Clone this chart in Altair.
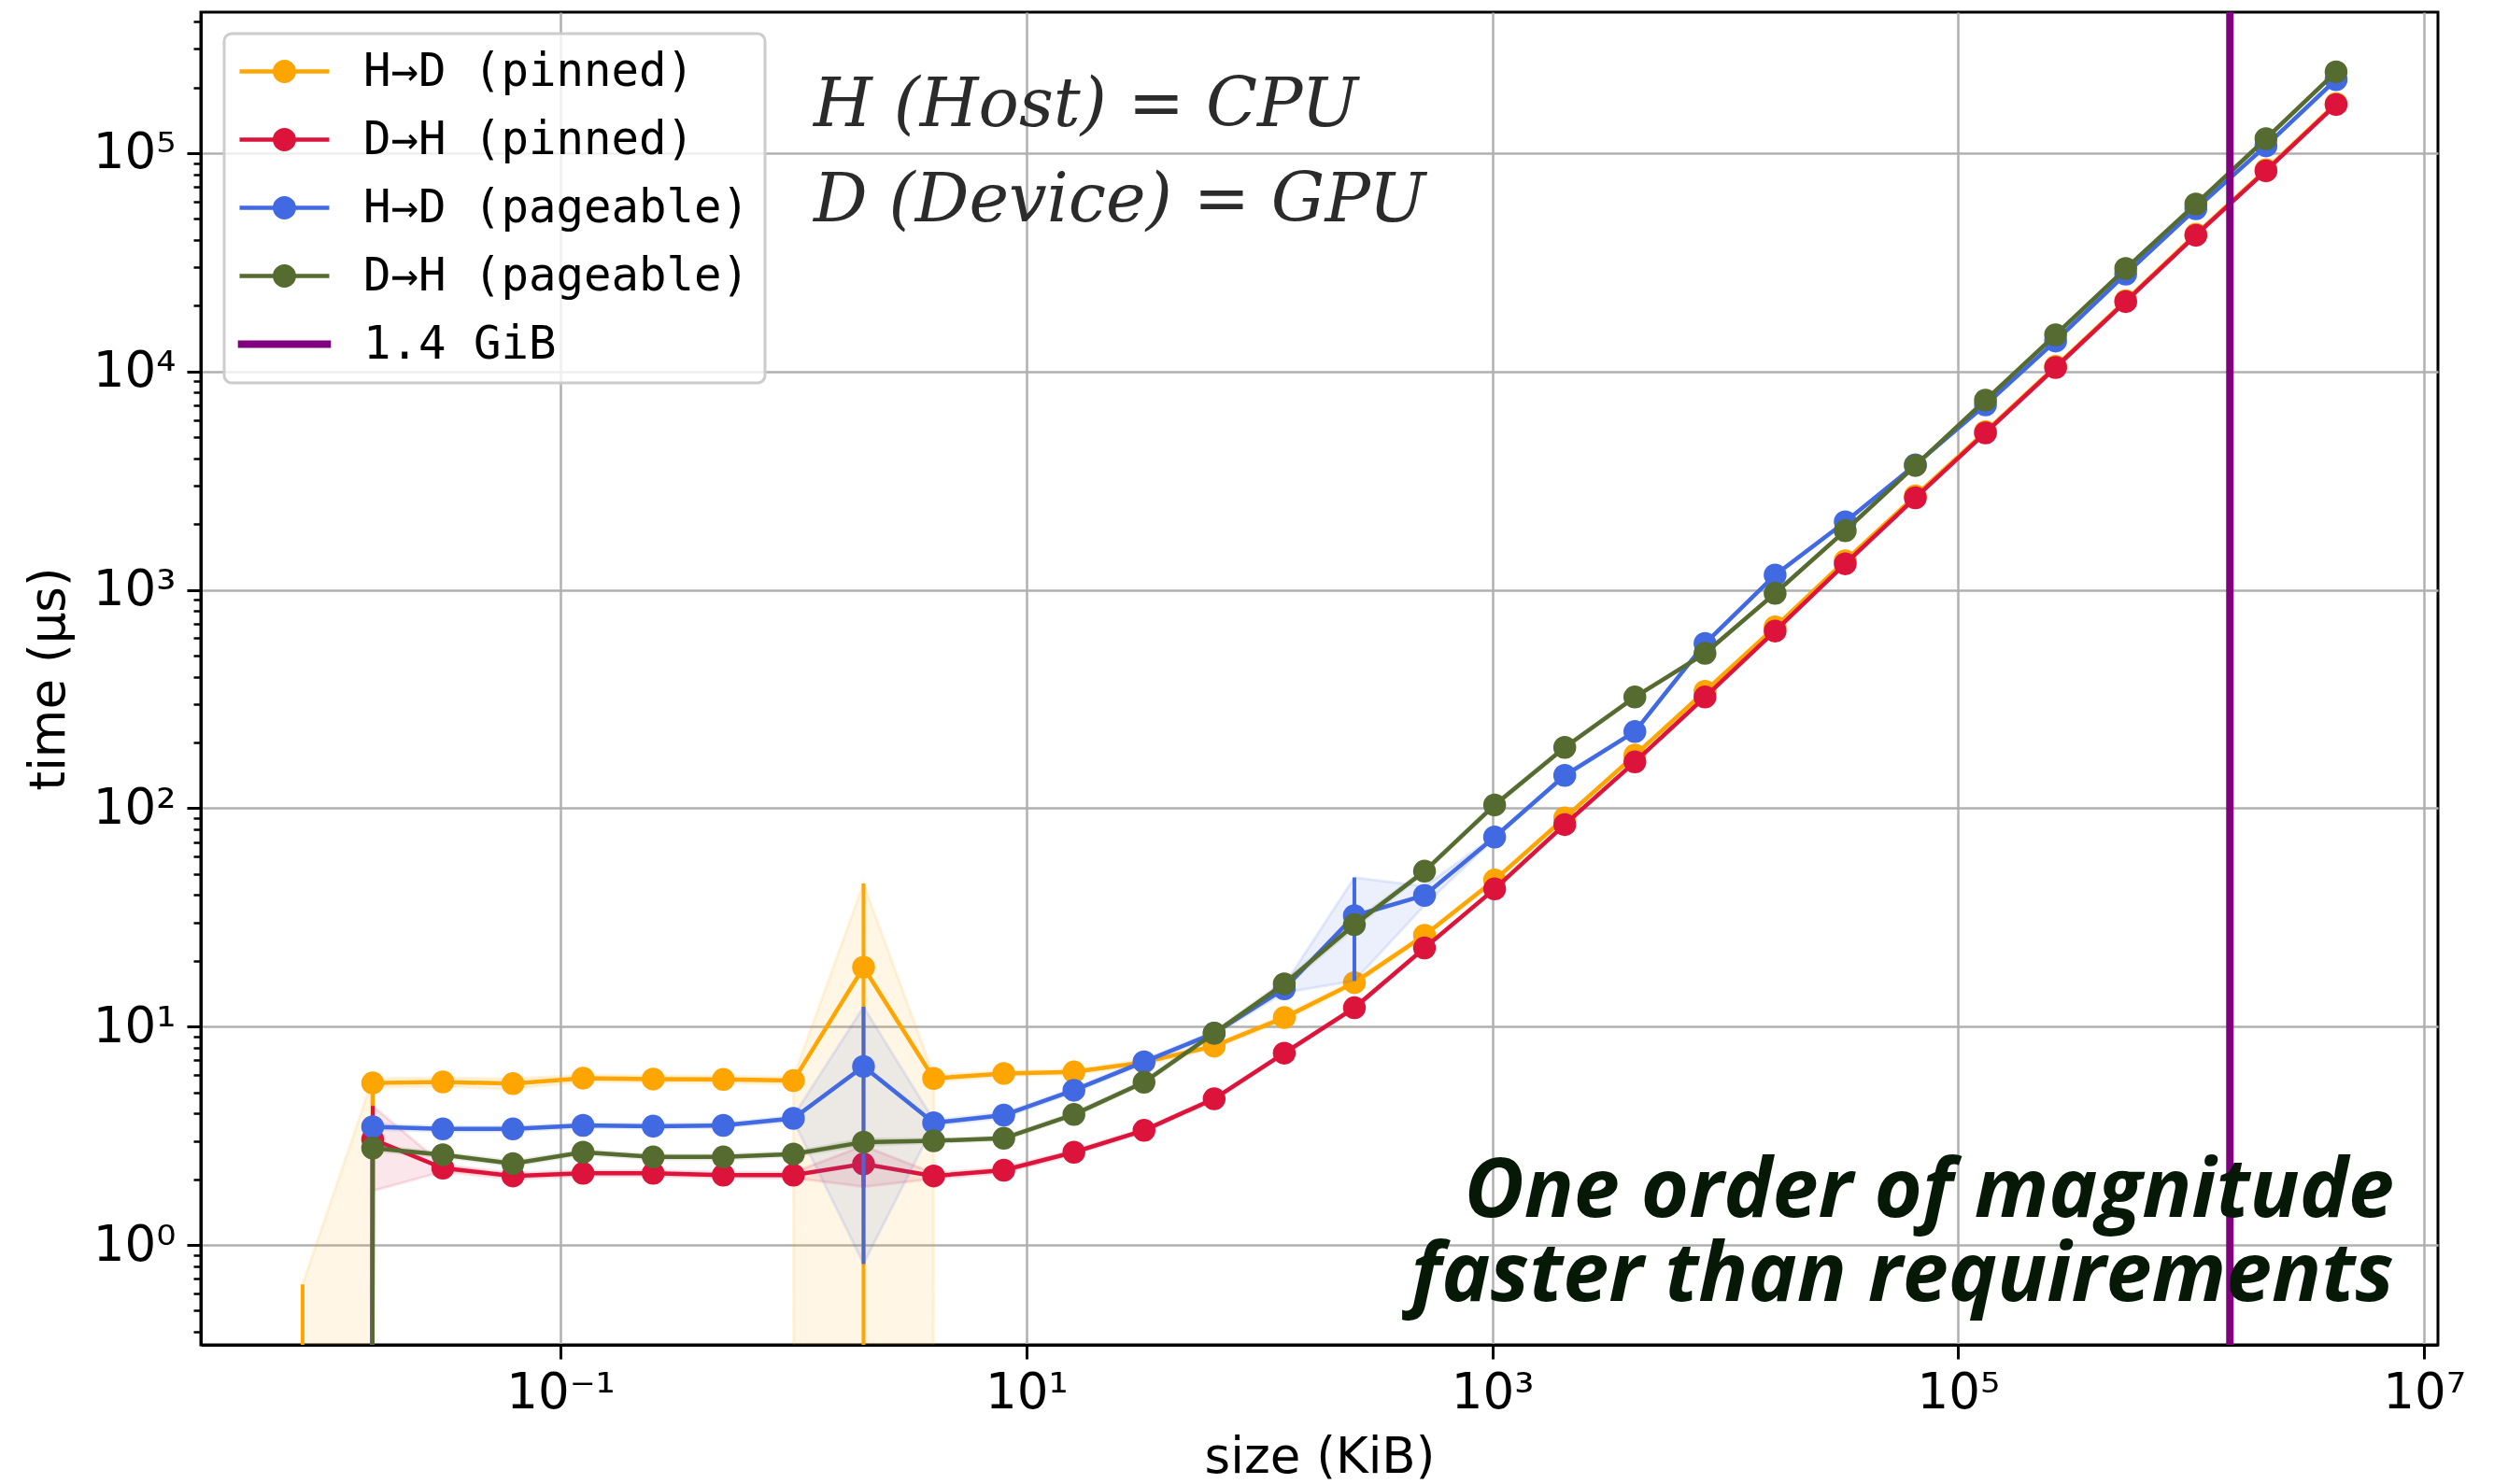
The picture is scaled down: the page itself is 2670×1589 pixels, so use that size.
import altair as alt
import numpy as np
import pandas as pd

# ---------------- data ----------------
size_exp = list(range(-7, 23))                 # message size = 2^k KiB (8 B ... 4 GiB)
size_kib = [2.0 ** k for k in size_exp]

names = ["H→D (pinned)", "D→H (pinned)", "H→D (pageable)", "D→H (pageable)"]
colors = ["#FFA500", "#DC143C", "#4169E1", "#556B2F"]
limit_name = "1.4 GiB"
limit_color = "#800080"
limit_kib = [1.4 * 1024 * 1024]

# mean time (µs); 0 = non-positive value (masked / clipped on the log axis)
h2d_pinned_mean = [0, 5.52, 5.58, 5.48, 5.81, 5.75, 5.73, 5.66, 18.7, 5.79, 6.1, 6.2, 6.87, 8.14, 11.0,
                   15.9, 26.2, 46.9, 90.3, 175, 343, 676, 1359, 2695, 5300, 10550, 21100, 42500, 83800, 168500]
h2d_pinned_std = [0.66, 0.25, 0.25, 0.3, 0.2, 0.2, 0.2, 0.2, 26.5, 0.2, 0.15, 0.15, 0.2, 0.2, 0.3,
                  0.4, 0.5, 0.8, 1, 2, 3, 5, 8, 12, 20, 30, 50, 80, 150, 300]

d2h_pinned_mean = [0, 3.05, 2.25, 2.07, 2.13, 2.13, 2.09, 2.09, 2.35, 2.07, 2.2, 2.66, 3.35, 4.67, 7.56,
                   12.2, 22.9, 42.7, 84.2, 163, 323, 648, 1316, 2640, 5236, 10430, 20900, 42040, 82950, 166900]
d2h_pinned_std = [0, 1.28, 0.08, 0.06, 0.06, 0.06, 0.06, 0.06, 0.5, 0.06, 0.06, 0.06, 0.06, 0.08, 0.1,
                  0.2, 0.3, 0.5, 1, 2, 3, 5, 8, 12, 20, 30, 50, 80, 150, 300]

h2d_pageable_mean = [0, 3.48, 3.40, 3.40, 3.53, 3.50, 3.53, 3.80, 6.57, 3.63, 3.93, 5.11, 6.9, 9.33, 14.9,
                     32.2, 39.9, 73.8, 141.4, 224.4, 568, 1170, 2049, 3740, 7034, 13785, 27920, 55600, 107900, 217000]
h2d_pageable_std = [0, 0.1, 0.08, 0.08, 0.08, 0.08, 0.08, 0.1, 5.75, 0.1, 0.1, 0.1, 0.15, 0.2, 0.6,
                    16, 4, 1, 2, 3, 5, 8, 12, 20, 30, 40, 60, 100, 200, 400]

d2h_pageable_mean = [0, 2.78, 2.59, 2.36, 2.66, 2.53, 2.53, 2.61, 2.96, 3.0, 3.08, 3.96, 5.56, 9.33, 15.7,
                     29.3, 51.5, 103.5, 190, 323, 512, 964, 1865, 3711, 7391, 14720, 29610, 58420, 116400, 235500]
d2h_pageable_std = [0, 0.08, 0.06, 0.06, 0.06, 0.06, 0.06, 0.06, 0.1, 0.06, 0.06, 0.08, 0.1, 0.2, 0.5,
                    1, 1, 2, 3, 4, 5, 8, 12, 20, 30, 40, 60, 100, 200, 400]

means = [h2d_pinned_mean, d2h_pinned_mean, h2d_pageable_mean, d2h_pageable_mean]
stds = [h2d_pinned_std, d2h_pinned_std, h2d_pageable_std, d2h_pageable_std]

x_tick_values = [1e-1, 1e1, 1e3, 1e5, 1e7]
x_tick_labels = ["10⁻¹", "10¹", "10³", "10⁵", "10⁷"]
y_major_exps = [0, 1, 2, 3, 4, 5]
y_major_labels = ["10⁰", "10¹", "10²", "10³", "10⁴", "10⁵"]

X_DOMAIN = [0.002858, 1.148e7]
Y_DOMAIN = [0.349, 4.42e5]
FLOOR = 1e-300   # clip for non-positive values on the log axis

# ---------------- helpers ----------------
y_tick_values = []
for d in range(-1, 6):
    for m in range(1, 10):
        v = m * 10.0 ** d
        if Y_DOMAIN[0] <= v <= Y_DOMAIN[1]:
            y_tick_values.append(v)

LOG = "(log(datum.value)/LN10)"
MAJOR = f"abs({LOG} - round({LOG})) < 0.001"


def label_chain(exps, labels):
    expr = "''"
    for e, lab in reversed(list(zip(exps, labels))):
        expr = f"(round({LOG}) == {e} ? '{lab}' : {expr})"
    return expr


x_exps = [int(round(np.log10(v))) for v in x_tick_values]
x_label_expr = label_chain(x_exps, x_tick_labels)
y_label_expr = f"{MAJOR} ? {label_chain(y_major_exps, y_major_labels)} : ''"

FONT = "DejaVu Sans"
xs = alt.Scale(type="log", domain=X_DOMAIN, nice=False)
ys = alt.Scale(type="log", domain=Y_DOMAIN, nice=False)

x_axis = alt.Axis(
    title="size (KiB)", values=x_tick_values, labelExpr=x_label_expr,
    labelFont=FONT, labelFontSize=53, labelColor="black", labelPadding=10,
    labelFlush=False, labelOverlap=False,
    tickSize=15, tickWidth=3, tickColor="black",
    domainColor="black", domainWidth=3,
    grid=True, gridColor="#b0b0b0", gridWidth=2.5,
    titleFont=FONT, titleFontSize=53, titleFontWeight="normal", titleColor="black", titlePadding=16,
)
y_axis = alt.Axis(
    title="time (μs)", values=y_tick_values, labelExpr=y_label_expr,
    labelFont=FONT, labelFontSize=53, labelColor="black", labelPadding=12,
    labelFlush=False, labelOverlap=False,
    tickSize={"condition": {"test": MAJOR, "value": 15}, "value": 8},
    tickWidth={"condition": {"test": MAJOR, "value": 3}, "value": 2.5},
    tickColor="black",
    domainColor="black", domainWidth=3,
    grid=True, gridColor="#b0b0b0", gridWidth=2.5,
    gridOpacity={"condition": {"test": MAJOR, "value": 1}, "value": 0},
    titleFont=FONT, titleFontSize=53, titleFontWeight="normal", titleColor="black", titlePadding=20,
)

X = alt.X("size:Q", scale=xs, axis=x_axis)


def Y(field):
    return alt.Y(field, type="quantitative", scale=ys, axis=y_axis)


layers = []
for name, col, mean, std in zip(names, colors, means, stds):
    m = np.array(mean, float)
    s = np.array(std, float)
    df = pd.DataFrame({"size": size_kib, "mean": m, "std": s, "series": name})
    df["y"] = np.where(m > 0, m, FLOOR)
    df["lo"] = np.where(m - s > 0, m - s, FLOOR)
    df["hi"] = np.where(m + s > 0, m + s, FLOOR)
    base = alt.Chart(df)
    band = base.mark_area(clip=True, color=col, fillOpacity=0.1, stroke=col,
                          strokeOpacity=0.12, strokeWidth=3).encode(x=X, y=Y("hi"), y2="lo:Q")
    err = base.mark_rule(clip=True, color=col, strokeWidth=4).encode(x=X, y=Y("lo"), y2="hi:Q")
    line = base.mark_line(clip=True, color=col, strokeWidth=4.5).encode(x=X, y=Y("y"))
    pts = base.transform_filter("datum.mean > 0").mark_circle(
        clip=True, color=col, size=600, opacity=1).encode(x=X, y=Y("y"))
    layers += [band, err, line, pts]

limit = alt.Chart(pd.DataFrame({"size": limit_kib})).mark_rule(
    color=limit_color, strokeWidth=8).encode(x=X)
layers.append(limit)

# legend (invisible carrier layer); symbol paths in units of sqrt(symbolSize)/2 = 12 px
all_names = names + [limit_name]
all_colors = colors + [limit_color]
sym_line_marker = ("M -4 -0.19 L -1.02 -0.19 L -1.02 0.19 L -4 0.19 Z "
                   "M 1.04 0 A 1.04 1.04 0 1 1 -1.04 0 A 1.04 1.04 0 1 1 1.04 0 Z "
                   "M 1.02 -0.19 L 4 -0.19 L 4 0.19 L 1.02 0.19 Z")
sym_thick = "M -4.15 -0.33 L 4.15 -0.33 L 4.15 0.33 L -4.15 0.33 Z"
leg = alt.Legend(title=None, orient="none", legendX=25, legendY=23, symbolSize=576,
                 symbolOffset=24, labelOffset=60,
                 labelFont="DejaVu Sans Mono", labelFontSize=49, labelColor="black",
                 labelLimit=2000, rowPadding=23, padding=16,
                 fillColor="rgba(255,255,255,0.8)", strokeColor="#cccccc", cornerRadius=8,
                 symbolStrokeWidth=0, symbolOpacity=1)
legend_layer = alt.Chart(pd.DataFrame({"series": all_names})).mark_point(
    filled=True, opacity=0).encode(
    color=alt.Color("series:N", scale=alt.Scale(domain=all_names, range=all_colors), legend=leg, sort=all_names),
    shape=alt.Shape("series:N", scale=alt.Scale(domain=all_names,
                    range=[sym_line_marker] * 4 + [sym_thick]), legend=leg, sort=all_names),
)
layers.append(legend_layer)

note1 = alt.Chart(pd.DataFrame({"t": ["H (Host) = CPU\nD (Device) = GPU"]})).mark_text(
    align="left", baseline="alphabetic", font="DejaVu Serif", fontStyle="italic",
    fontSize=72, color="#2b2b2b", lineBreak="\n", lineHeight=102,
).encode(text="t:N", x=alt.value(656), y=alt.value(122))

note2 = alt.Chart(pd.DataFrame({"t": ["One order of magnitude\nfaster than requirements"]})).mark_text(
    align="right", baseline="alphabetic", font="Open Sans", fontStyle="italic", fontWeight="bold",
    fontSize=88, color="#061806", lineBreak="\n", lineHeight=90,
).encode(text="t:N", x=alt.value(2348), y=alt.value(1290))

layers += [note1, note2]

chart = alt.layer(*layers).properties(
    width=2395, height=1427,
    padding={"left": 215, "top": 13, "right": 60, "bottom": 149},
    autosize=alt.AutoSizeParams(type="none"),
    background="white",
).configure_view(stroke="black", strokeWidth=3).configure_legend(strokeWidth=3)

chart.save("out.html", embed_options={"renderer": "svg", "actions": False})
